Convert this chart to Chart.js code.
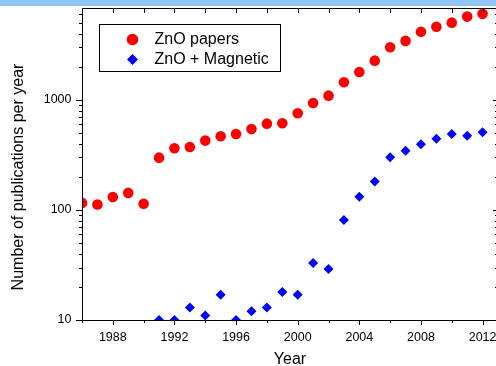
<!DOCTYPE html>
<html>
<head>
<meta charset="utf-8">
<script src="https://cdn.jsdelivr.net/npm/chart.js@4"></script>
<style>
  html, body { margin: 0; padding: 0; background: #fff; overflow: hidden; }
  #chart { position: absolute; left: 0; top: 0; }
  #band { position: absolute; left: 0; top: 0; width: 100%; height: 6px; background: #8fc4f4; }
</style>
</head>
<body>
<canvas id="chart" width="512" height="370"></canvas>
<div id="band"></div>
<script>
// years and counts
const paperYears = [1986, 1987, 1988, 1989, 1990, 1991, 1992, 1993, 1994, 1995, 1996, 1997, 1998, 1999,
    2000, 2001, 2002, 2003, 2004, 2005, 2006, 2007, 2008, 2009, 2010, 2011, 2012];
const znoPapers = [116, 112, 131, 143, 114, 299, 364, 374, 427, 468, 491, 545, 609, 615,
    757, 939, 1094, 1448, 1797, 2277, 3010, 3440, 4170, 4630, 5040, 5720, 6060];

const magneticYears = [1991, 1992, 1993, 1994, 1995, 1996, 1997, 1998, 1999,
    2000, 2001, 2002, 2003, 2004, 2005, 2006, 2007, 2008, 2009, 2010, 2011, 2012];
const znoMagnetic = [10, 10, 13, 11, 17, 10, 12, 13, 18,
    17, 33, 29, 81, 132, 181, 301, 346, 396, 445, 491, 473, 509];

const xTickLabels = [1988, 1992, 1996, 2000, 2004, 2008, 2012];
const yTickLabels = [10, 100, 1000];

const FONT = '"Liberation Sans", Arial, sans-serif';
Chart.defaults.font.family = FONT;
Chart.defaults.color = '#000';

const toPoints = (xs, ys) => xs.map((yr, i) => ({ x: yr, y: ys[i] }));

// box, ticks on all four sides
const frameTicks = {
    id: 'frameTicks',
    afterDraw(chart) {
        const { ctx, chartArea: a, scales: { x, y } } = chart;
        ctx.save();
        ctx.strokeStyle = '#000';
        ctx.lineWidth = 1;
        ctx.beginPath();
        for (let yr = x.min; yr <= x.max; yr += 2) {
            const px = Math.round(x.getPixelForValue(yr)) + 0.5;
            const len = yr % 4 === 0 ? 5 : 3;
            ctx.moveTo(px, a.bottom); ctx.lineTo(px, a.bottom + len);
            ctx.moveTo(px, a.top); ctx.lineTo(px, a.top + 5);
        }
        for (let d = 10; d <= y.max; d *= 10) {
            for (let k = 1; k <= 9; k++) {
                const v = d * k;
                if (v > y.max) break;
                const py = Math.round(y.getPixelForValue(v)) + 0.5;
                const major = k === 1;
                ctx.moveTo(a.left, py); ctx.lineTo(a.left - (major ? 6 : 3), py);
                ctx.moveTo(a.right, py); ctx.lineTo(a.right - (major ? 5 : 3), py);
            }
        }
        ctx.stroke();
        ctx.strokeRect(Math.round(a.left) + 0.5, Math.round(a.top) + 0.5,
            Math.round(a.right - a.left), Math.round(a.bottom - a.top));
        ctx.restore();
    }
};

// axis titles, placed where the original has them
const axisTitles = {
    id: 'axisTitles',
    afterDraw(chart) {
        const { ctx, chartArea: a, options } = chart;
        ctx.save();
        ctx.fillStyle = '#000';
        ctx.font = '16px ' + FONT;
        ctx.textAlign = 'center';
        ctx.textBaseline = 'middle';
        ctx.fillText(options.scales.x.title.text, (a.left + a.right) / 2, 359.5);
        ctx.translate(18.5, 177);
        ctx.rotate(-Math.PI / 2);
        ctx.fillText(options.scales.y.title.text, 0, 0);
        ctx.restore();
    }
};

// boxed legend inside the plot
const boxLegend = {
    id: 'boxLegend',
    afterDraw(chart) {
        const { ctx } = chart;
        ctx.save();
        ctx.strokeStyle = '#000';
        ctx.lineWidth = 1;
        ctx.strokeRect(99.5, 24.5, 181, 47);
        ctx.font = '16px ' + FONT;
        ctx.textBaseline = 'middle';
        chart.data.datasets.forEach((ds, i) => {
            const cy = 39.5 + i * 20;
            ctx.fillStyle = ds.pointBackgroundColor;
            ctx.beginPath();
            if (ds.pointStyle === 'circle') {
                ctx.arc(132.5, cy, 5.8, 0, Math.PI * 2);
            } else {
                ctx.moveTo(132.5, cy - 5.5); ctx.lineTo(138, cy);
                ctx.lineTo(132.5, cy + 5.5); ctx.lineTo(127, cy);
                ctx.closePath();
            }
            ctx.fill();
            ctx.fillStyle = '#000';
            ctx.fillText(ds.label, 154.5, cy);
        });
        ctx.restore();
    }
};

new Chart(document.getElementById('chart'), {
    type: 'scatter',
    data: {
        datasets: [
            {
                label: 'ZnO papers',
                data: toPoints(paperYears, znoPapers),
                pointStyle: 'circle',
                pointRadius: 5.3,
                pointBorderWidth: 0,
                pointBackgroundColor: '#ff0000',
                pointBorderColor: '#ff0000'
            },
            {
                label: 'ZnO + Magnetic',
                data: toPoints(magneticYears, znoMagnetic),
                pointStyle: 'rectRot',
                pointRadius: 5,
                pointBorderWidth: 0,
                pointBackgroundColor: '#0000ff',
                pointBorderColor: '#0000ff'
            }
        ]
    },
    options: {
        responsive: false,
        animation: false,
        layout: { padding: { top: 8, right: 14, left: 0, bottom: 0 } },
        plugins: {
            legend: { display: false },
            tooltip: { enabled: false }
        },
        scales: {
            x: {
                type: 'linear',
                min: 1986,
                max: 2013,
                title: { display: false, text: 'Year' },
                grid: { display: false, drawTicks: false },
                border: { display: false },
                ticks: {
                    padding: 10,
                    font: { size: 12.5 },
                    maxRotation: 0,
                    callback: (v) => String(v)
                },
                afterBuildTicks: (scale) => {
                    scale.ticks = xTickLabels.map((v) => ({ value: v }));
                },
                afterFit: (scale) => {
                    scale.height = 50;
                    scale.paddingLeft = 0;
                    scale.paddingRight = 0;
                }
            },
            y: {
                type: 'logarithmic',
                min: 10,
                max: 6850,
                title: { display: false, text: 'Number of publications per year' },
                grid: { display: false, drawTicks: false },
                border: { display: false },
                ticks: {
                    padding: 10.5,
                    font: { size: 12.5 },
                    callback: (v) => String(v)
                },
                afterBuildTicks: (scale) => {
                    scale.ticks = yTickLabels.map((v) => ({ value: v }));
                },
                afterFit: (scale) => {
                    scale.width = 82;
                    scale.paddingTop = 0;
                    scale.paddingBottom = 0;
                }
            }
        }
    },
    plugins: [frameTicks, axisTitles, boxLegend]
});
</script>
</body>
</html>
